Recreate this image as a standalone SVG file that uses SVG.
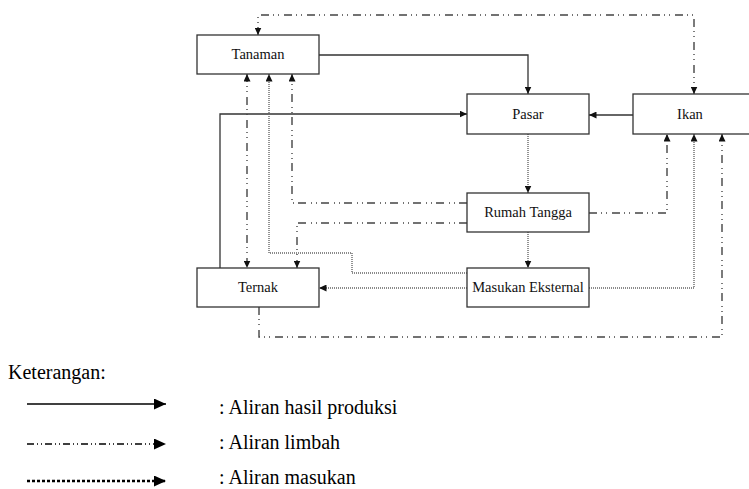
<svg xmlns="http://www.w3.org/2000/svg" width="749" height="489" viewBox="0 0 749 489">
<defs>
<marker id="ah" markerUnits="userSpaceOnUse" markerWidth="8" markerHeight="7" refX="7.5" refY="3.5" orient="auto-start-reverse">
<path d="M0,0 L7.5,3.5 L0,7 z" fill="#111"/>
</marker>
<marker id="lah" markerUnits="userSpaceOnUse" markerWidth="13" markerHeight="11" refX="12" refY="5.5" orient="auto">
<path d="M0,0 L12,5.5 L0,11 z" fill="#000"/>
</marker>
</defs>
<style>
.box{fill:#fff;stroke:#333;stroke-width:1.3}
.lbl{font-family:"Liberation Serif","Times New Roman",serif;font-size:14.5px;fill:#111;text-anchor:middle}
.leg{font-family:"Liberation Serif","Times New Roman",serif;font-size:20px;fill:#000}
.c{fill:none;marker-end:url(#ah)}
.solid{stroke:#333;stroke-width:1.3}
.dot{stroke:#666;stroke-width:1.4;stroke-dasharray:1 1}
.dd{stroke:#444;stroke-width:1.4;stroke-dasharray:8 4 1 4 1 5}
</style>
<g id="connectors">
<path class="c solid" d="M319,55 H528 V94"/>
<path class="c solid" d="M220,268 V114 H467"/>
<path class="c solid" d="M633,115 H589"/>
<path class="c dot" d="M528,134 V193"/>
<path class="c dot" d="M528,232 V268"/>
<path class="c dot" d="M467,288 H319"/>
<path class="c dot" d="M467,273 H352 V253 H269 V74"/>
<path class="c dot" d="M589,288 H694 V134"/>
<path class="c dd" d="M467,203 H292 V74"/>
<path class="c dd" d="M467,223 H297 V268"/>
<path class="c dd" d="M589,213 H667 V134"/>
<path class="c dd" d="M247,74 V268" marker-start="url(#ah)"/>
<path class="c dd" d="M259,307 V337 H722 V134"/>
<path class="c dd" d="M258,35 V15 H694 V94" marker-start="url(#ah)"/>
</g>
<g id="tanaman"><rect class="box" x="197" y="35" width="122" height="39"/><text class="lbl" x="258" y="59">Tanaman</text></g>
<g id="pasar"><rect class="box" x="467" y="94" width="122" height="40"/><text class="lbl" x="528" y="119">Pasar</text></g>
<g id="ikan"><rect class="box" x="633" y="94" width="120" height="40"/><text class="lbl" x="690" y="119">Ikan</text></g>
<g id="rumah-tangga"><rect class="box" x="467" y="193" width="122" height="39"/><text class="lbl" x="528" y="217">Rumah Tangga</text></g>
<g id="masukan-eksternal"><rect class="box" x="467" y="268" width="122" height="39"/><text class="lbl" x="528" y="292">Masukan Eksternal</text></g>
<g id="ternak"><rect class="box" x="197" y="268" width="122" height="39"/><text class="lbl" x="258" y="292">Ternak</text></g>
<g id="legend">
<text class="leg" x="8" y="379">Keterangan:</text>
<path d="M27,404 H166" stroke="#000" stroke-width="1.3" fill="none" marker-end="url(#lah)"/>
<path d="M27,444 H166" stroke="#000" stroke-width="1.3" stroke-dasharray="7 3 1 3 1 3" fill="none" marker-end="url(#lah)"/>
<path d="M27,481 H166" stroke="#000" stroke-width="2.5" stroke-dasharray="3 2" fill="none" marker-end="url(#lah)"/>
<text class="leg" x="219" y="414">: Aliran hasil produksi</text>
<text class="leg" x="219" y="449">: Aliran limbah</text>
<text class="leg" x="219" y="484">: Aliran masukan</text>
</g>
</svg>
